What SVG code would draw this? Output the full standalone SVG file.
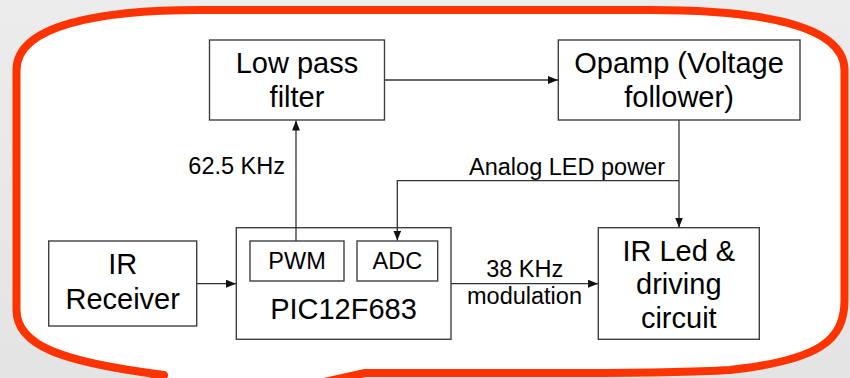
<svg xmlns="http://www.w3.org/2000/svg" width="850" height="378" viewBox="0 0 850 378">
<defs>
<linearGradient id="bg" x1="0" y1="0" x2="0" y2="1">
<stop offset="0" stop-color="#ececec"/>
<stop offset="1" stop-color="#e4e4e4"/>
</linearGradient>
<marker id="arr" viewBox="0 0 10 8" refX="10" refY="4" markerWidth="10" markerHeight="8" markerUnits="userSpaceOnUse" orient="auto">
<path d="M0,0 L10,4 L0,8 Z" fill="#111"/>
</marker>
<style>
.box{fill:#fff;stroke:#404040;stroke-width:1.4}
.t{font-family:"Liberation Sans",Arial,sans-serif;fill:#000;text-anchor:middle}
.big{font-size:29px}
.sm{font-size:23.5px}
.ln{fill:none;stroke:#333;stroke-width:1.3}
</style>
</defs>
<rect width="850" height="378" fill="url(#bg)"/>
<path id="callout" d="M16.5,70 C16.5,25 100,10 200,10 L650,10 C760,10 844.5,25 844.5,70 L844.5,300 C844.5,340 820,360 730,370 C690,372.5 620,373 560,373 L365,373 L19,449 L164,375 C60,362 16.5,345 16.5,310 Z" fill="#fff" stroke="#ff3300" stroke-width="8" stroke-linejoin="round"/>
<g id="lpf">
<rect class="box" x="209.5" y="40" width="175" height="80"/>
<text class="t big" x="297" y="72.7">Low pass</text>
<text class="t big" x="297" y="107">filter</text>
</g>
<g id="opamp">
<rect class="box" x="558.3" y="40" width="241.7" height="80"/>
<text class="t big" x="679" y="72.7">Opamp (Voltage</text>
<text class="t big" x="679" y="107">follower)</text>
</g>
<g id="irrx">
<rect class="box" x="48.7" y="241" width="148" height="85"/>
<text class="t big" x="122.7" y="274.3">IR</text>
<text class="t big" x="122.7" y="309">Receiver</text>
</g>
<g id="pic">
<rect class="box" x="236.3" y="227.7" width="214.7" height="111.6"/>
<text class="t big" x="343.5" y="319.3">PIC12F683</text>
</g>
<g id="pwm">
<rect class="box" x="250" y="241" width="94" height="40"/>
<text class="t sm" x="297" y="269.3">PWM</text>
</g>
<g id="adc">
<rect class="box" x="357" y="241" width="80.7" height="40"/>
<text class="t sm" x="397.3" y="269.3">ADC</text>
</g>
<g id="irled">
<rect class="box" x="598.3" y="227.7" width="161" height="111.6"/>
<text class="t big" x="678.8" y="261">IR Led &amp;</text>
<text class="t big" x="678.8" y="294.3">driving</text>
<text class="t big" x="678.8" y="328.3">circuit</text>
</g>
<g id="connectors">
<path class="ln" d="M384.5,80 H558" marker-end="url(#arr)"/>
<path class="ln" d="M296,241 V120.5" marker-end="url(#arr)"/>
<path class="ln" d="M679,120 V227.5" marker-end="url(#arr)"/>
<path class="ln" d="M679,180.7 H397.3 V240.5" marker-end="url(#arr)"/>
<path class="ln" d="M196.7,283.7 H236" marker-end="url(#arr)"/>
<path class="ln" d="M451,283.7 H598" marker-end="url(#arr)"/>
<text class="t sm" x="285" y="174.3" style="text-anchor:end">62.5 KHz</text>
<text class="t sm" x="665" y="175" style="text-anchor:end">Analog LED power</text>
<text class="t sm" x="524.7" y="276.7">38 KHz</text>
<text class="t sm" x="524.5" y="304.3">modulation</text>
</g>
</svg>
